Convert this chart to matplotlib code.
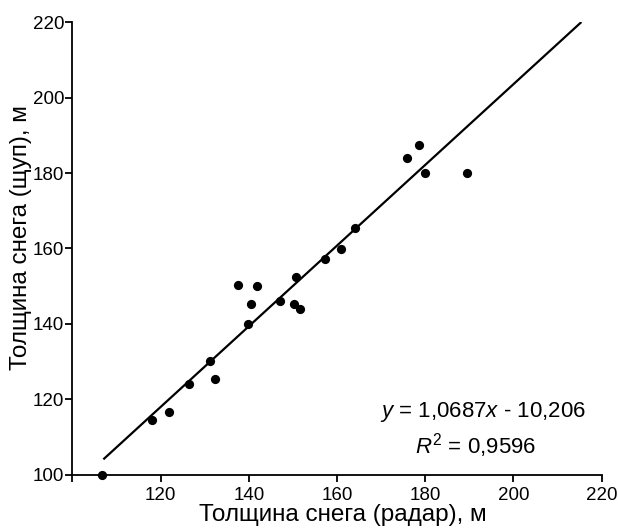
import matplotlib
matplotlib.use("Agg")
import matplotlib.pyplot as plt

plt.rcParams["font.family"] = ["Liberation Sans", "DejaVu Sans"]
plt.rcParams["mathtext.fontset"] = "custom"
plt.rcParams["mathtext.rm"] = "Liberation Sans"
plt.rcParams["mathtext.it"] = "Liberation Sans:italic"

# radar vs probe snow thickness
radar = [106.8, 118.1, 121.9, 126.4, 131.2, 132.3, 139.7, 140.5, 137.5, 141.8,
         147.1, 150.3, 151.5, 150.6, 157.3, 160.9, 164.1, 175.8, 178.6, 179.9, 189.5]
probe = [100.1, 114.6, 116.8, 124.1, 130.2, 125.4, 140.1, 145.2, 150.3, 150.0,
         146.1, 145.4, 144.1, 152.5, 157.3, 159.9, 165.4, 184.1, 187.4, 179.9, 179.9]

slope = 1.0687
intercept = -10.206
line_x = [107.0, 215.4]
line_y = [slope * v + intercept for v in line_x]

x_ticks = [100, 120, 140, 160, 180, 200, 220]
x_labels = ["", "120", "140", "160", "180", "200", "220"]
y_ticks = [100, 120, 140, 160, 180, 200, 220]

fig = plt.figure(figsize=(6.18, 5.29), dpi=100)
ax = fig.add_axes([0.1173, 0.1021, 0.8563, 0.8563])

# trend line + measured points
ax.plot(line_x, line_y, color="black", linewidth=1.6, solid_capstyle="butt")
ax.scatter(radar, probe, s=44, color="black", zorder=3, clip_on=False, linewidths=0)

ax.set_xlim(100, 220)
ax.set_ylim(100, 220)
ax.set_xticks(x_ticks)
ax.set_xticklabels(x_labels)
ax.set_yticks(y_ticks)

for side in ("top", "right"):
    ax.spines[side].set_visible(False)
for side in ("left", "bottom"):
    ax.spines[side].set_linewidth(1.3)

ax.tick_params(axis="x", direction="out", length=5, width=1.3, labelsize=13.5, pad=4)
ax.tick_params(axis="y", direction="out", length=5, width=1.3, labelsize=13.5, pad=1)

fig.text(0.554, 0.006, "Толщина снега (радар), м", fontsize=17.5, ha="center", va="bottom")
fig.text(0.034, 0.551, "Толщина снега (щуп), м", fontsize=17.5, ha="center", va="center",
         rotation=90)

ax.text(0.776, 0.139, "$y$ = 1,0687$x$ - 10,206", transform=ax.transAxes,
        fontsize=16, ha="center", va="center")
ax.text(0.762, 0.066, "$R^2$ = 0,9596", transform=ax.transAxes,
        fontsize=16, ha="center", va="center")

fig.savefig("out.png", dpi=100)
